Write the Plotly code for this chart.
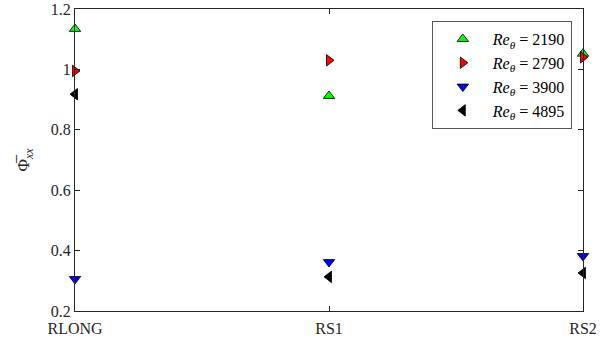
import plotly.graph_objects as go

categories = ["RLONG", "RS1", "RS2"]
x_pos = [1, 2, 3]
series_names = ["2190", "2790", "3900", "4895"]
re2190 = [1.134, 0.912, 1.052]
re2790 = [0.995, 1.030, 1.040]
re3900 = [0.306, 0.362, 0.382]
re4895 = [0.918, 0.313, 0.326]
y_ticks = [0.2, 0.4, 0.6, 0.8, 1.0, 1.2]
y_tick_text = ["0.2", "0.4", "0.6", "0.8", "1", "1.2"]

series = [
    (re2190, "triangle-up", "#00ff00"),
    (re2790, "triangle-right", "#ff0000"),
    (re3900, "triangle-down", "#0000ff"),
    (re4895, "triangle-left", "#000000"),
]

font_family = "Liberation Serif, Times New Roman, serif"
fig = go.Figure()
for name, (vals, sym, col) in zip(series_names, series):
    fig.add_trace(go.Scatter(
        x=x_pos, y=vals, mode="markers",
        name=f"<i>Re</i><sub><i>θ</i></sub> = {name}",
        marker=dict(symbol=sym, size=10, color=col, line=dict(color="black", width=0.8)),
        cliponaxis=False,
    ))

fig.update_layout(
    width=600, height=344,
    margin=dict(l=75, r=17, t=9, b=33, autoexpand=False),
    paper_bgcolor="white", plot_bgcolor="white",
    font=dict(family=font_family, size=16, color="#262626"),
    showlegend=True,
    legend=dict(
        x=0.978, y=0.96, xanchor="right", yanchor="top",
        bordercolor="#555555", borderwidth=1, bgcolor="white",
        font=dict(size=16, family=font_family, color="#000000"),
        itemwidth=50, tracegroupgap=0,
    ),
    xaxis=dict(
        range=[1, 3], tickvals=x_pos, ticktext=categories,
        showgrid=False, zeroline=False, automargin=False,
        showline=True, linecolor="#262626", linewidth=1, mirror="ticks",
        ticks="inside", ticklen=5, tickcolor="#262626",
        tickfont=dict(size=16, family=font_family), ticklabelstandoff=3,
    ),
    yaxis=dict(
        range=[0.2, 1.2], tickvals=y_ticks, ticktext=y_tick_text,
        showgrid=False, zeroline=False, automargin=False,
        showline=True, linecolor="#262626", linewidth=1, mirror="ticks",
        ticks="inside", ticklen=5, tickcolor="#262626",
        tickfont=dict(size=16, family=font_family),
        title=dict(text="Φ̅<sub><i>xx</i></sub>", font=dict(size=17, family=font_family), standoff=16),
    ),
)

fig.write_html("out.html", config={"displayModeBar": False},
               post_script="document.body.style.margin='0';")
